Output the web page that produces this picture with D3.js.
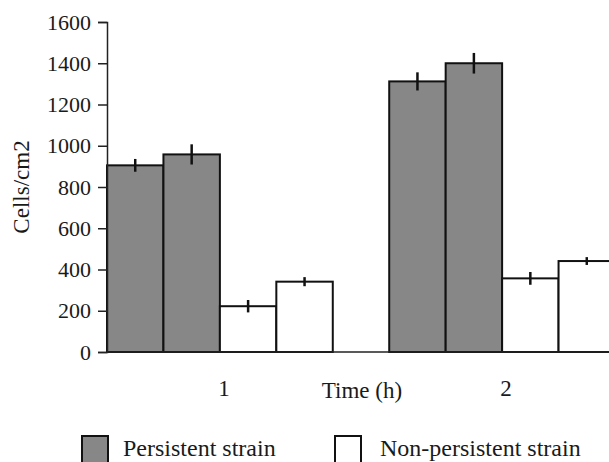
<!DOCTYPE html>
<html>
<head>
<meta charset="utf-8">
<script src="https://cdn.jsdelivr.net/npm/d3@7/dist/d3.min.js"></script>
<style>
html,body{margin:0;padding:0;background:#fff;}
svg{display:block;}
text{font-family:"Liberation Serif","Times New Roman",serif;fill:#1a1a1a;}
</style>
</head>
<body>
<svg id="chart" width="609" height="462"></svg>
<script>
// ---- data ----
const timeLabels = ["1", "2"];
const barKeys = ["P-a", "P-b", "N-a", "N-b"];
const barType = ["Persistent strain", "Persistent strain", "Non-persistent strain", "Non-persistent strain"];
const valuesT1 = [905, 958, 222, 341];
const valuesT2 = [1312, 1400, 357, 441];
const errorsT1 = [31, 49, 30, 22];
const errorsT2 = [44, 50, 31, 19];
const yTicks = [0, 200, 400, 600, 800, 1000, 1200, 1400, 1600];
const legendLabels = ["Persistent strain", "Non-persistent strain"];
const yLabel = "Cells/cm2";
const xLabel = "Time (h)";

const valuesByTime = [valuesT1, valuesT2];
const errorsByTime = [errorsT1, errorsT2];
const rows = [];
timeLabels.forEach((t, i) => {
  barKeys.forEach((k, j) => {
    rows.push({time: t, key: k, type: barType[j], value: valuesByTime[i][j], err: errorsByTime[i][j]});
  });
});

// ---- layout ----
const svg = d3.select("#chart");
const x0 = 107, x1 = 615, yTop = 22, yBase = 352;
const fillFor = d3.scaleOrdinal().domain(legendLabels).range(["#878787", "#ffffff"]);

const x = d3.scaleBand().domain(timeLabels).range([x0, x1]).paddingInner(0.2).paddingOuter(0);
const xs = d3.scaleBand().domain(barKeys).range([0, x.bandwidth()]).padding(0);
const y = d3.scaleLinear().domain([0, 1600]).range([yBase, yTop]);

// bars
const bars = svg.append("g");
bars.selectAll("rect").data(rows).join("rect")
  .attr("x", d => x(d.time) + xs(d.key))
  .attr("y", d => y(d.value))
  .attr("width", xs.bandwidth())
  .attr("height", d => y(0) - y(d.value))
  .attr("fill", d => fillFor(d.type))
  .attr("stroke", "#111")
  .attr("stroke-width", 2);

// error bars
svg.append("g").selectAll("line").data(rows).join("line")
  .attr("x1", d => x(d.time) + xs(d.key) + xs.bandwidth() / 2)
  .attr("x2", d => x(d.time) + xs(d.key) + xs.bandwidth() / 2)
  .attr("y1", d => y(d.value + d.err))
  .attr("y2", d => y(d.value - d.err))
  .attr("stroke", "#111")
  .attr("stroke-width", 2.5);

// y axis
const yAxis = d3.axisLeft(y).tickValues(yTicks).tickSize(9).tickPadding(7).tickFormat(d3.format("d"));
const gy = svg.append("g").attr("transform", `translate(${x0},0)`).call(yAxis);
gy.select(".domain").attr("stroke", "#222").attr("stroke-width", 1.5);
gy.selectAll(".tick line").attr("stroke", "#222").attr("stroke-width", 1.5);
gy.selectAll(".tick text").attr("font-family", "Liberation Serif").attr("font-size", 22).attr("fill", "#1a1a1a");

// x axis line
const xAxis = d3.axisBottom(x).tickSize(0).tickPadding(28);
const gx = svg.append("g").attr("transform", `translate(0,${yBase})`).call(xAxis);
gx.select(".domain").attr("stroke", "#222").attr("stroke-width", 1.5).attr("d", `M${x0},0H609`);
gx.selectAll(".tick text").attr("font-family", "Liberation Serif").attr("font-size", 23).attr("fill", "#1a1a1a")
  .attr("dx", 4);

// axis titles
svg.append("text")
  .attr("transform", `translate(29,${(yTop + yBase) / 2}) rotate(-90)`)
  .attr("text-anchor", "middle")
  .attr("font-size", 23)
  .text(yLabel);
svg.append("text")
  .attr("x", 362).attr("y", 398)
  .attr("text-anchor", "middle")
  .attr("font-size", 23)
  .text(xLabel);

// legend
const legendX = [82, 335];
const lg = svg.append("g");
legendLabels.forEach((lab, i) => {
  lg.append("rect").attr("x", legendX[i]).attr("y", 436).attr("width", 26).attr("height", 28)
    .attr("fill", fillFor(lab)).attr("stroke", "#111").attr("stroke-width", 2);
  lg.append("text").attr("x", legendX[i] + 41 + (i === 1 ? 4 : 0)).attr("y", 456)
    .attr("font-size", 24).text(lab);
});
</script>
</body>
</html>
